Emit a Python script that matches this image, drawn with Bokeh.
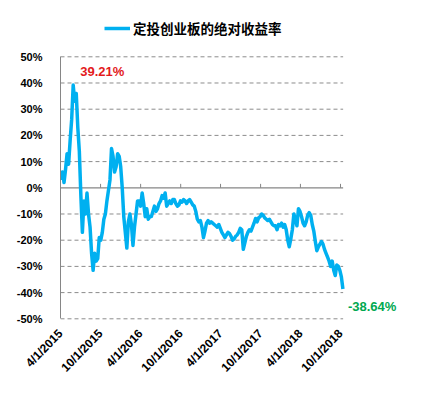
import pandas as pd
from bokeh.plotting import figure
from bokeh.models import (ColumnDataSource, FixedTicker, Label, Legend,
                          LegendItem, PrintfTickFormatter, Range1d)
from bokeh.embed import file_html
from bokeh.resources import INLINE

# ---------------- data ----------------
series_name = "定投创业板的绝对收益率"
first_week = "2015-04-03"
# weekly absolute return (%)
returns = [
    3, 6, 2, 7, 13, 9, 18, 26, 39.21, 33,
    36, 23, 14, -3, -17, -5, -10, -2, -10, -15,
    -25, -31.5, -25, -28, -27, -19, -20, -17, -12, -10,
    -5, -1, 3, 15, 12, 6, 8, 13, 12, 8,
    0, -11, -17, -23, -13, -10, -14, -22, -15, -10,
    -5, -5, -7, -2, -6, -11, -8, -12, -11, -11,
    -9, -7, -9, -8, -6, -5, -3, -4, -2, -7,
    -6, -5, -6, -4.5, -4.5, -6, -7, -6.5, -5, -5.5,
    -4.5, -5, -6, -5, -4.5, -5.5, -6.5, -7, -9, -12,
    -13, -12.5, -15, -19, -16.5, -13.5, -12.5, -13.5, -13, -13.5,
    -14, -14.5, -15, -14, -15.5, -17, -18, -19, -18, -17,
    -17.5, -18.5, -20, -19.5, -18.5, -18, -17, -15.5, -16, -23.5,
    -21, -18.5, -17, -16, -16.5, -15, -13.5, -11.7, -13, -11.5,
    -11, -10, -10.5, -11.5, -12, -12.5, -12, -13, -14, -14.5,
    -14.5, -16, -14, -14.5, -13.5, -15, -14, -16, -20, -22.5,
    -19.5, -16, -10, -12, -14.5, -8, -9, -11, -13.5, -14.5,
    -13, -10.5, -9.5, -10.5, -14, -16.5, -20.5, -24, -22.5, -21.5,
    -20.5, -21.5, -23.5, -25, -26.5, -28, -30, -28, -31.5, -33.5,
    -29.5, -30, -31.5, -34, -38.64,
]
dates = pd.date_range(first_week, periods=len(returns), freq="7D")
tick_labels = ["4/1/2015", "10/1/2015", "4/1/2016", "10/1/2016",
               "4/1/2017", "10/1/2017", "4/1/2018", "10/1/2018"]
y_ticks = [-50, -40, -30, -20, -10, 0, 10, 20, 30, 40, 50]
peak_text = "39.21%"
end_text = "-38.64%"

# ---------------- layout constants (styles) ----------------
W, H = 430, 392
B_LEFT, B_TOP, B_RIGHT, B_BOTTOM = 60, 12, 30, 72
PX_PER_10PCT = 26.2
AXIS_PX = 280           # pixels between first and last date tick
PAD_DAYS = 12           # plot area continues a little past last tick

tick_dates = pd.to_datetime(tick_labels, format="%m/%d/%Y")
tick_ms = [d.value / 1e6 for d in tick_dates]
frame_w = W - B_LEFT - B_RIGHT
frame_h = H - B_TOP - B_BOTTOM
span = tick_dates[-1] - tick_dates[0]
x_start = tick_dates[0]
x_end = x_start + span * (frame_w / AXIS_PX)
y_bottom = y_ticks[0] - 0.65
y_top = y_bottom + frame_h * 10 / PX_PER_10PCT

src = ColumnDataSource(dict(date=dates, ret=returns))
grid_end = tick_dates[-1] + pd.Timedelta(days=PAD_DAYS)
dash_ticks = [t for t in y_ticks if t != 0]
grid_src = ColumnDataSource(dict(x0=[tick_dates[0]] * len(dash_ticks),
                                 x1=[grid_end] * len(dash_ticks),
                                 y=dash_ticks))
zero_src = ColumnDataSource(dict(x0=[tick_dates[0]], x1=[grid_end], y=[0]))
tick_src = ColumnDataSource(dict(x=tick_dates, y0=[0] * len(tick_dates),
                                 y1=[1.5] * len(tick_dates)))

p = figure(width=W, height=H, x_axis_type="datetime",
           output_backend="svg", toolbar_location=None,
           min_border_left=B_LEFT, min_border_top=B_TOP,
           min_border_right=B_RIGHT, min_border_bottom=B_BOTTOM,
           x_range=Range1d(x_start, x_end), y_range=Range1d(y_bottom, y_top))
p.outline_line_color = None
p.background_fill_color = "white"
p.border_fill_color = "white"
p.xgrid.visible = False
p.ygrid.visible = False

grey = "#868686"
# y axis
yax = p.yaxis[0]
yax.ticker = FixedTicker(ticks=y_ticks)
yax.bounds = (y_ticks[0], y_ticks[-1])
yax.formatter = PrintfTickFormatter(format="%d%%")
yax.axis_line_color = grey
yax.major_tick_line_color = None
yax.minor_tick_line_color = None
yax.major_label_standoff = 12
yax.major_label_text_font = "Liberation Sans"
yax.major_label_text_font_style = "bold"
yax.major_label_text_font_size = "11px"
yax.major_label_text_color = "black"

# x axis
xax = p.xaxis[0]
xax.ticker = FixedTicker(ticks=tick_ms)
xax.major_label_overrides = {ms: lab for ms, lab in zip(tick_ms, tick_labels)}
xax.major_label_orientation = 0.8
xax.axis_line_color = None
xax.major_tick_line_color = None
xax.minor_tick_line_color = None
xax.major_label_standoff = 5
xax.major_label_text_font = "Liberation Sans"
xax.major_label_text_font_style = "bold"
xax.major_label_text_font_size = "12px"
xax.major_label_text_color = "black"

# dashed horizontal grid, solid zero line with small ticks
p.segment(x0="x0", y0="y", x1="x1", y1="y", source=grid_src,
          line_color="#8c8c8c", line_width=1, line_dash="4 3")
p.segment(x0="x0", y0="y", x1="x1", y1="y", source=zero_src,
          line_color=grey, line_width=1.2)
p.segment(x0="x", y0="y0", x1="x", y1="y1", source=tick_src,
          line_color=grey, line_width=1)

r = p.line(x="date", y="ret", source=src, line_color="#00B0F0",
           line_width=3.5, line_join="round")

legend = Legend(items=[LegendItem(label=series_name, renderers=[r])],
                location=(44, 282), orientation="horizontal",
                padding=0, margin=0, border_line_color=None,
                background_fill_alpha=0, glyph_width=26, glyph_height=16,
                label_height=16, label_standoff=3,
                label_text_font="Noto Sans CJK SC",
                label_text_font_style="bold",
                label_text_font_size="13.5px", label_text_color="black")
p.add_layout(legend)

imax = max(range(len(returns)), key=lambda i: returns[i])
p.add_layout(Label(x=dates[imax], y=returns[imax], text=peak_text,
                   x_offset=7, y_offset=14, text_baseline="middle",
                   text_align="left", text_color="#E31A1C",
                   text_font="Liberation Sans", text_font_style="bold",
                   text_font_size="13px"))
p.add_layout(Label(x=dates[-1], y=returns[-1], text=end_text,
                   x_offset=5, y_offset=-17, text_baseline="middle",
                   text_align="left", text_color="#00A850",
                   text_font="Liberation Sans", text_font_style="bold",
                   text_font_size="13px"))

open("out.html", "w").write(file_html(p, INLINE))
